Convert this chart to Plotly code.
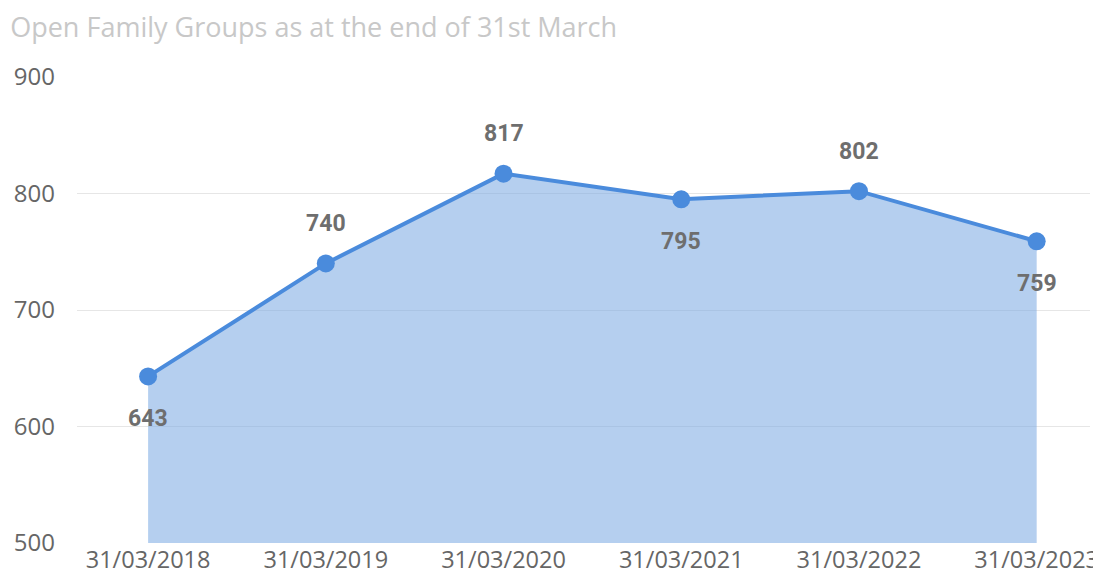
import plotly.graph_objects as go

categories = ["31/03/2018", "31/03/2019", "31/03/2020", "31/03/2021", "31/03/2022", "31/03/2023"]
values = [643, 740, 817, 795, 802, 759]
label_side = ["below", "above", "above", "below", "above", "below"]
title_text = "Open Family Groups as at the end of 31st March"

fig = go.Figure()
fig.add_trace(go.Scatter(
    x=categories, y=values, mode="lines+markers",
    line=dict(color="#4A8BDC", width=4),
    marker=dict(size=18, color="#4A8BDC"),
    fill="tozeroy", fillcolor="rgba(120,168,226,0.55)",
    hoverinfo="skip", showlegend=False,
))

for c, v, s in zip(categories, values, label_side):
    fig.add_annotation(
        x=c, y=v, text=str(v), showarrow=False,
        yshift=40 if s == "above" else -42,
        font=dict(family="Roboto", size=23, color="#6e6e6e", weight="bold"),
    )

fig.update_layout(
    width=1101, height=580,
    margin=dict(l=69, r=19, t=69, b=45, autoexpand=False),
    paper_bgcolor="white", plot_bgcolor="white",
    title=dict(text=title_text, x=0.002, xanchor="left", y=0.967, yanchor="middle",
               font=dict(family="Open Sans", size=27, color="#c8c8c8")),
    xaxis=dict(type="category", range=[-0.4, 5.3], showgrid=False, zeroline=False,
               showline=False, ticks="", automargin=False,
               tickfont=dict(family="Open Sans", size=23.5, color="#666666")),
    yaxis=dict(range=[500, 900], tickvals=[500, 600, 700, 800, 900],
               showgrid=True, gridcolor="#e6e6e6", gridwidth=1, zeroline=False,
               showline=False, ticks="", ticklabelstandoff=21, automargin=False,
               tickfont=dict(family="Open Sans", size=24, color="#666666")),
)

fig.write_html("out.html")
